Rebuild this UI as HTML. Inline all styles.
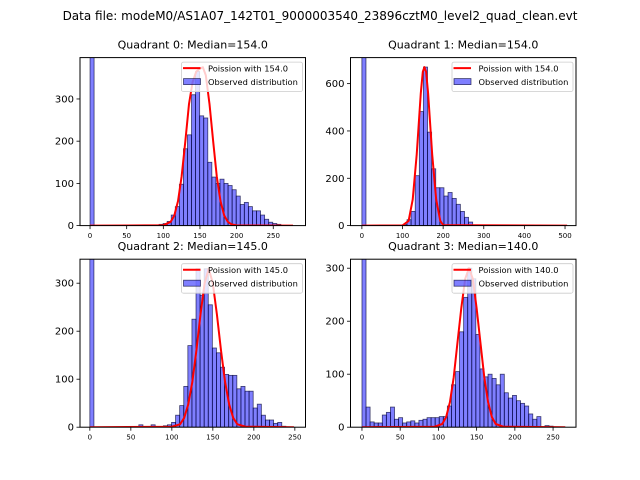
<!DOCTYPE html>
<html><head><meta charset="utf-8"><style>
body{margin:0;background:#fff}
svg{display:block;font-family:"DejaVu Sans","Liberation Sans",sans-serif}
</style></head><body>
<svg id="fig" width="640" height="480" viewBox="0 0 640 480">
<rect width="640" height="480" fill="#fff"/>
<text x="320" y="20" text-anchor="middle" font-size="12">Data file: modeM0/AS1A07_142T01_9000003540_23896cztM0_level2_quad_clean.evt</text>
</svg>
<script>
// Quadrant 0
const q0Counts=[2000,0,0,0,0,0,0,0,0,0,0,0,0,0,0,0,0,3,5,10,25,45,98,182,215,310,365,260,255,150,115,100,110,100,95,85,70,50,55,45,35,35,25,15,8,5,3,0,0,0];
const q0CurveX=[0,100,110,115,120,125,130,135,140,145,150,154,158,163,168,173,178,183,188,193,200,277];
const q0CurveY=[0,0.7,9,24,58,116,199,288,340,365,372,375,356,288,199,116,58,24,9,3,0.4,0];
const q0XTicks=[0,50,100,150,200,250];
const q0YTicks=[0,100,200,300];
// Quadrant 1
const q1Counts=[2000,0,0,0,0,0,0,0,0,0,5,25,60,211,482,670,395,240,160,160,125,140,115,90,60,35,15,3,2,0,0,0,0,0,0,0,0,0,0,0,0,0,0,0,0,0,0,0,0,0];
const q1CurveX=[0,100,115,125,135,145,150,154,158,163,173,183,193,200,505];
const q1CurveY=[0,1,20,110,300,560,650,670,650,560,300,110,20,2,0];
const q1XTicks=[0,100,200,300,400,500];
const q1YTicks=[0,200,400,600];
// Quadrant 2
const q2Counts=[2000,0,0,0,0,0,0,0,0,0,0,0,5,0,0,5,0,0,3,5,10,25,45,85,170,225,330,275,330,255,165,155,125,110,108,108,80,85,75,75,40,48,25,15,15,8,10,2,0,0];
const q2CurveX=[0,100,110,115,120,125,130,135,140,145,150,155,160,165,170,175,180,190,249];
const q2CurveY=[0,1,6,19,47,94,160,235,300,330,300,235,160,94,47,19,6,1,0];
const q2XTicks=[0,50,100,150,200,250];
const q2YTicks=[0,100,200,300];
// Quadrant 3
const q3Counts=[2000,38,10,8,8,23,28,38,15,18,8,10,12,8,13,15,18,18,18,20,20,40,80,105,180,245,300,280,175,110,95,100,92,80,100,65,55,60,50,45,40,25,15,20,0,3,2,0,0,0];
const q3CurveX=[0,95,105,110,115,120,125,130,135,140,145,150,155,160,165,170,175,185,266];
const q3CurveY=[0,1,6,19,47,94,160,225,280,300,280,225,160,94,47,19,6,1,0];
const q3XTicks=[0,50,100,150,200,250];
const q3YTicks=[0,100,200,300];

const titles=["Quadrant 0: Median=154.0","Quadrant 1: Median=154.0","Quadrant 2: Median=145.0","Quadrant 3: Median=140.0"];
const labels=["Poission with 154.0","Poission with 154.0","Poission with 145.0","Poission with 140.0"];
const binWidths=[5.54,10.1,4.98,5.32];
const xlims=[[-13.7,294],[-28,527],[-12,263],[-15,280]];
const ylims=[398,710,350,317];
const countsAll=[q0Counts,q1Counts,q2Counts,q3Counts];
const cxAll=[q0CurveX,q1CurveX,q2CurveX,q3CurveX];
const cyAll=[q0CurveY,q1CurveY,q2CurveY,q3CurveY];
const xtAll=[q0XTicks,q1XTicks,q2XTicks,q3XTicks];
const ytAll=[q0YTicks,q1YTicks,q2YTicks,q3YTicks];

const NS="http://www.w3.org/2000/svg";
const fig=document.getElementById('fig');
function mk(tag,attrs,parent){const e=document.createElementNS(NS,tag);for(const k in attrs)e.setAttribute(k,attrs[k]);(parent||fig).appendChild(e);return e;}
const boxes=[[80,57.6],[350.5,57.6],[80,259.2],[350.5,259.2]];
const W=225.5,H=168;
for(let q=0;q<4;q++){
  const [L,T]=boxes[q];
  const g=mk('g',{});
  
  
  const [x0,x1]=xlims[q];const ymax=ylims[q];
  const sx=v=>L+(v-x0)/(x1-x0)*W;
  const sy=v=>T+H-Math.min(v,ymax*1.02)/ymax*H;
  const clipId='clip'+q;
  const cp=mk('clipPath',{id:clipId},g);mk('rect',{x:L,y:T,width:W,height:H},cp);
  const bars=mk('g',{'clip-path':'url(#'+clipId+')'},g);
  
  
  const bw=binWidths[q];
  countsAll[q].forEach((c,i)=>{
    if(c<=0)return;
    const r=mk('rect',{x:sx(i*bw),y:sy(c),width:sx((i+1)*bw)-sx(i*bw),height:T+H-sy(c),fill:'rgba(0,0,255,0.5)',stroke:'rgba(0,0,50,0.7)','stroke-width':0.8},bars);
    
    
  });
  const pts=cxAll[q].map((x,i)=>sx(x).toFixed(1)+','+sy(cyAll[q][i]).toFixed(1)).join(' ');
  const line=mk('polyline',{points:pts,fill:'none',stroke:'#ff0000','stroke-width':2,'stroke-linejoin':'round','clip-path':'url(#'+clipId+')'},g);
  
  
  mk('rect',{x:L,y:T,width:W,height:H,fill:'none',stroke:'#000','stroke-width':1},g);
  xtAll[q].forEach(t=>{
    const x=sx(t);
    mk('line',{x1:x,x2:x,y1:T+H,y2:T+H+3.5,stroke:'#000','stroke-width':0.8},g);
    const tx=mk('text',{x:x,y:T+H+12.5,'text-anchor':'middle','font-size':7},g);tx.textContent=t;
    
    
  });
  ytAll[q].forEach(t=>{
    const y=sy(t);
    mk('line',{x1:L-3.5,x2:L,y1:y,y2:y,stroke:'#000','stroke-width':0.8},g);
    const tx=mk('text',{x:L-6,y:y+3.5,'text-anchor':'end','font-size':10},g);tx.textContent=t;
    
    
  });
  const ti=mk('text',{x:L+W/2,y:T-9,'text-anchor':'middle','font-size':11},g);ti.textContent=titles[q];
  
  
  const lg=mk('g',{},g);
  
  
  const lx=L+W-124,ly=T+4.5;
  mk('rect',{x:lx,y:ly,width:121,height:29.5,fill:'rgba(255,255,255,0.8)',stroke:'#ccc','stroke-width':0.8,rx:2},lg);
  mk('line',{x1:lx+1.5,x2:lx+19,y1:ly+6,y2:ly+6,stroke:'#ff0000','stroke-width':2},lg);
  const t1=mk('text',{x:lx+26.5,y:ly+9.4,'font-size':8.3},lg);t1.textContent=labels[q];
  
  
  mk('rect',{x:lx+2,y:ly+16.5,width:17,height:6,fill:'rgba(0,0,255,0.5)',stroke:'rgba(0,0,50,0.7)','stroke-width':0.8},lg);
  const t2=mk('text',{x:lx+26.5,y:ly+22.7,'font-size':8.3},lg);t2.textContent='Observed distribution';
  
  
}
</script>
</body></html>
